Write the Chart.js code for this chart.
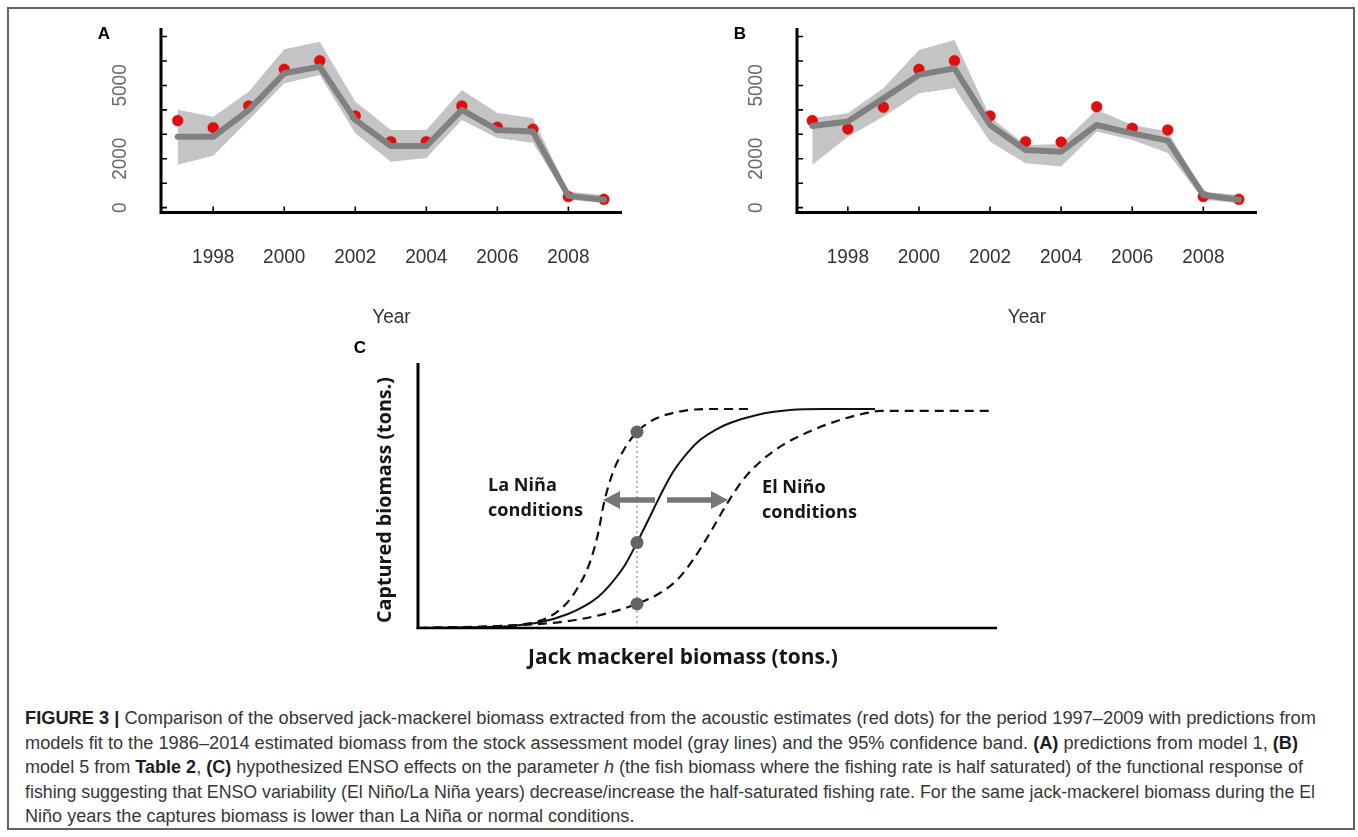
<!DOCTYPE html>
<html>
<head>
<meta charset="utf-8">
<script src="https://cdn.jsdelivr.net/npm/chart.js@4/dist/chart.umd.min.js"></script>
<style>
html,body{margin:0;padding:0;background:#fff;}
body{width:1358px;height:837px;position:relative;overflow:hidden;font-family:"Liberation Sans",Arial,sans-serif;}
canvas{position:absolute;}
#frame{position:absolute;left:7px;top:7px;width:1348px;height:823px;border:2px solid #626262;box-sizing:border-box;}
.cap{position:absolute;left:25px;white-space:nowrap;font-size:18px;line-height:24px;color:#363636;transform-origin:0 0;}
.cap b{color:#1e1e1e;}
</style>
</head>
<body>
<div id="frame"></div>
<canvas id="cA" width="680" height="340" style="left:0;top:0"></canvas>
<canvas id="cB" width="678" height="340" style="left:680px;top:0"></canvas>
<canvas id="cC" width="700" height="350" style="left:340px;top:330px"></canvas>
<div class="cap" data-end="1316" style="top:706px"><b>FIGURE 3 |</b> Comparison of the observed jack-mackerel biomass extracted from the acoustic estimates (red dots) for the period 1997–2009 with predictions from</div>
<div class="cap" data-end="1298" style="top:731px">models fit to the 1986–2014 estimated biomass from the stock assessment model (gray lines) and the 95% confidence band. <b>(A)</b> predictions from model 1, <b>(B)</b></div>
<div class="cap" data-end="1303" style="top:755px">model 5 from <b>Table 2</b>, <b>(C)</b> hypothesized ENSO effects on the parameter <i>h</i> (the fish biomass where the fishing rate is half saturated) of the functional response of</div>
<div class="cap" data-end="1315" style="top:780px">fishing suggesting that ENSO variability (El Niño/La Niña years) decrease/increase the half-saturated fishing rate. For the same jack-mackerel biomass during the El</div>
<div class="cap" style="top:804px">Niño years the captures biomass is lower than La Niña or normal conditions.</div>
<script>
// ---------------- data: panels A and B ----------------
const years = [1997,1998,1999,2000,2001,2002,2003,2004,2005,2006,2007,2008,2009];
const obsA = [3560,3270,4160,5660,6010,3750,2700,2700,4160,3290,3210,450,340];
const fitA = [2900,2900,3990,5500,5770,3590,2520,2520,4000,3180,3110,480,320];
const upA  = [4000,3720,4740,6480,6790,4340,3180,3180,4810,3870,3670,650,520];
const loA  = [1750,2120,3590,5090,5430,3040,1880,2030,3590,2850,2650,320,190];

const obsB = [3560,3220,4110,5660,6010,3750,2700,2680,4130,3250,3180,450,340];
const fitB = [3340,3520,4470,5430,5700,3380,2360,2290,3380,3040,2740,520,320];
const upB  = [3660,3860,4880,6450,6860,3720,2560,2600,4000,3380,3110,650,520];
const loB  = [1750,2900,3720,4680,4880,2700,1820,1680,3110,2770,2230,320,190];

const yTickValues = [0,1000,2000,3000,4000,5000,6000,7000];
const yTickLabels = [0,2000,5000];
const xTickLabels = [1998,2000,2002,2004,2006,2008];

// ---------------- data: panel C (conceptual curves) ----------------
const solidX  = [0,0.898,1.554,2.124,2.591,2.850,3.109,3.282,3.575,3.782,3.990,4.145,4.404,4.698,4.870,5.130,5.389,5.855,6.425,6.995,7.893];
const solidY  = [0,0.003,0.008,0.027,0.064,0.096,0.142,0.187,0.288,0.390,0.500,0.584,0.712,0.813,0.858,0.904,0.936,0.973,0.995,1.0,1.0];
const ninaX   = [0,0.898,1.330,1.848,2.263,2.539,2.746,2.953,3.109,3.212,3.368,3.575,3.782,4.059,4.473,4.991,5.734];
const ninaY   = [0,0.004,0.008,0.018,0.050,0.105,0.178,0.288,0.430,0.571,0.712,0.822,0.895,0.950,0.986,1.0,1.0];
const ninoX   = [0,1.416,2.453,3.143,3.782,4.180,4.473,4.750,5.043,5.354,5.613,5.907,6.304,6.822,7.288,7.755,7.979,9.931];
const ninoY   = [0,0.009,0.027,0.059,0.110,0.160,0.219,0.311,0.434,0.575,0.676,0.758,0.836,0.904,0.950,0.982,0.991,0.991];
const markX   = [3.782,3.782,3.782];
const markY   = [0.895,0.390,0.110];
const guideX  = [3.782,3.782];
const guideY  = [0,0.895];
const arrowFrom  = [4.093,4.301];
const arrowTo    = [3.195,5.354];
const arrowLevel = [0.584,0.584];

const pts = (xs, ys) => xs.map((x,i)=>({x:x, y:ys[i]}));

function fitFont(ctx, text, weight, family, target){
  ctx.font = weight + ' 100px ' + family;
  const w = ctx.measureText(text).width;
  return weight + ' ' + (100*target/w).toFixed(2) + 'px ' + family;
}

// ---------------- plugin for R style axes ----------------
const rAxes = {
  id:'rAxes',
  afterDraw(chart, args, o){
    const ctx = chart.ctx, ca = chart.chartArea, xs = chart.scales.x, ys = chart.scales.y;
    ctx.save();
    ctx.strokeStyle = '#000';
    ctx.lineWidth = 3;
    ctx.beginPath();
    ctx.moveTo(ca.left, ca.top); ctx.lineTo(ca.left, ca.bottom+1.5);
    ctx.moveTo(ca.left-1.5, ca.bottom); ctx.lineTo(ca.right, ca.bottom);
    ctx.stroke();
    ctx.lineWidth = 1.6;
    ctx.beginPath();
    yTickValues.forEach(v=>{const y=ys.getPixelForValue(v); ctx.moveTo(ca.left, y); ctx.lineTo(ca.left+6, y);});
    xTickLabels.forEach(v=>{const x=xs.getPixelForValue(v); ctx.moveTo(x, ca.bottom); ctx.lineTo(x, ca.bottom-6);});
    ctx.stroke();
    // y labels (rotated)
    ctx.fillStyle = '#6a6a6a';
    ctx.font = '19px "Liberation Sans", Arial, sans-serif';
    ctx.textAlign = 'center'; ctx.textBaseline = 'middle';
    yTickLabels.forEach(v=>{
      const y = ys.getPixelForValue(v);
      ctx.save(); ctx.translate(ca.left-41, y); ctx.rotate(-Math.PI/2); ctx.scale(1,1.08); ctx.fillText(String(v),0,0); ctx.restore();
    });
    // x labels
    ctx.fillStyle = '#333';
    xTickLabels.forEach(v=>{
      const x = xs.getPixelForValue(v);
      ctx.save(); ctx.translate(x, ca.bottom+44.5); ctx.scale(1,1.08); ctx.fillText(String(v),0,0); ctx.restore();
    });
    ctx.save(); ctx.translate((ca.left+ca.right)/2, ca.bottom+104.5); ctx.scale(1,1.08); ctx.fillText('Year',0,0); ctx.restore();
    // panel letter
    ctx.fillStyle = '#000';
    ctx.font = 'bold 17px "Liberation Sans", Arial, sans-serif';
    ctx.fillText(o.letter, ca.left-57, 34);
    ctx.restore();
  }
};

function tsChart(id, obs, fit, up, lo, pad, xmin, xmax, letter){
  return new Chart(document.getElementById(id), {
    type:'line',
    data:{datasets:[
      {label:'Model', data:pts(years, fit), borderColor:'rgb(128,128,128)', borderWidth:6, pointRadius:0, fill:false, order:0, borderJoinStyle:'round', borderCapStyle:'round', tension:0},
      {label:'Acoustic', data:pts(years, obs), showLine:false, pointRadius:5.5, pointBackgroundColor:'rgb(226,14,14)', pointBorderColor:'rgba(200,0,0,0.6)', pointBorderWidth:0.5, order:1},
      {label:'Upper 95%', data:pts(years, up), borderColor:'rgba(0,0,0,0)', borderWidth:0, pointRadius:0, fill:'+1', backgroundColor:'rgb(196,196,196)', order:2, tension:0},
      {label:'Lower 95%', data:pts(years, lo), borderColor:'rgba(0,0,0,0)', borderWidth:0, pointRadius:0, fill:false, order:3, tension:0}
    ]},
    options:{
      responsive:false, animation:false, events:[],
      layout:{padding:pad},
      plugins:{legend:{display:false}, tooltip:{enabled:false}, rAxes:{letter:letter}},
      scales:{
        x:{type:'linear', min:xmin, max:xmax, display:false},
        y:{type:'linear', min:-200, max:7350, display:false}
      }
    },
    plugins:[rAxes]
  });
}

tsChart('cA', obsA, fitA, upA, loA, {left:161, top:28, right:58, bottom:127.5}, 1996.53, 2009.51, 'A');
tsChart('cB', obsB, fitB, upB, loB, {left:117, top:28, right:101, bottom:127.5}, 1996.57, 2009.51, 'B');

// ---------------- panel C ----------------
const cPlugin = {
  id:'cDecor',
  afterDraw(chart){
    const ctx = chart.ctx, ca = chart.chartArea, xs = chart.scales.x, ys = chart.scales.y;
    ctx.save();
    // axes
    ctx.strokeStyle = '#000';
    ctx.lineWidth = 3;
    ctx.beginPath(); ctx.moveTo(ca.left, ca.top); ctx.lineTo(ca.left, ca.bottom+1); ctx.stroke();
    ctx.lineWidth = 2.6;
    ctx.beginPath(); ctx.moveTo(ca.left-1.5, ca.bottom); ctx.lineTo(ca.right, ca.bottom); ctx.stroke();
    // arrows
    ctx.strokeStyle = ctx.fillStyle = 'rgb(118,118,118)';
    arrowFrom.forEach((f,i)=>{
      const x0 = xs.getPixelForValue(f), x1 = xs.getPixelForValue(arrowTo[i]), y = ys.getPixelForValue(arrowLevel[i]);
      const dir = Math.sign(x1-x0), hl = 17, hh = 9;
      ctx.lineWidth = 5.5;
      ctx.beginPath(); ctx.moveTo(x0, y); ctx.lineTo(x1-dir*hl+dir*1, y); ctx.stroke();
      ctx.beginPath(); ctx.moveTo(x1, y); ctx.lineTo(x1-dir*hl, y-hh); ctx.lineTo(x1-dir*hl, y+hh); ctx.closePath(); ctx.fill();
    });
    // annotations
    const fam = '"Open Sans", "DejaVu Sans", sans-serif';
    ctx.fillStyle = '#161616';
    ctx.textAlign = 'left'; ctx.textBaseline = 'middle';
    ctx.font = fitFont(ctx, 'conditions', '700', fam, 95);
    const lx1 = xs.getPixelForValue(1.209), ly1 = ys.getPixelForValue(0.648);
    ctx.fillText('La Niña', lx1, ly1); ctx.fillText('conditions', lx1, ly1+25);
    const lx2 = xs.getPixelForValue(5.941), ly2 = ys.getPixelForValue(0.639);
    ctx.fillText('El Niño', lx2, ly2); ctx.fillText('conditions', lx2, ly2+25);
    // axis titles
    ctx.textAlign = 'center';
    ctx.font = fitFont(ctx, 'Jack mackerel biomass (tons.)', '700', fam, 310);
    ctx.fillText('Jack mackerel biomass (tons.)', 343, 328);
    ctx.font = fitFont(ctx, 'Captured biomass (tons.)', '700', fam, 246);
    ctx.save(); ctx.translate(45, 170); ctx.rotate(-Math.PI/2); ctx.fillText('Captured biomass (tons.)', 0, 0); ctx.restore();
    // panel letter
    ctx.fillStyle = '#000';
    ctx.font = 'bold 17px "Liberation Sans", Arial, sans-serif';
    ctx.fillText('C', 20, 18);
    ctx.restore();
  }
};

new Chart(document.getElementById('cC'), {
  type:'line',
  data:{datasets:[
    {label:'Normal', data:pts(solidX, solidY), borderColor:'#111', borderWidth:2, pointRadius:0, cubicInterpolationMode:'monotone', fill:false, order:2},
    {label:'La Niña', data:pts(ninaX, ninaY), borderColor:'#111', borderWidth:2.2, borderDash:[9,6], pointRadius:0, cubicInterpolationMode:'monotone', fill:false, order:2},
    {label:'El Niño', data:pts(ninoX, ninoY), borderColor:'#111', borderWidth:2.2, borderDash:[9,6], pointRadius:0, cubicInterpolationMode:'monotone', fill:false, order:2},
    {label:'Same biomass', data:pts(guideX, guideY), borderColor:'#a8a8a8', borderWidth:1.6, borderDash:[2,3], pointRadius:0, fill:false, order:3},
    {label:'Captures', data:pts(markX, markY), showLine:false, pointRadius:6.5, pointBackgroundColor:'rgb(100,100,100)', pointBorderWidth:0, order:0}
  ]},
  options:{
    responsive:false, animation:false, events:[],
    layout:{padding:{left:78, top:33, right:43, bottom:52}},
    plugins:{legend:{display:false}, tooltip:{enabled:false}},
    scales:{
      x:{type:'linear', min:0, max:10, display:false},
      y:{type:'linear', min:0, max:1.21, display:false}
    }
  },
  plugins:[cPlugin]
});

// ---------------- caption width fit (per line, to the reference line ends) ----------------
(function(){
  const lines = Array.from(document.querySelectorAll('.cap'));
  const factors = [];
  lines.forEach(l=>{
    const end = l.getAttribute('data-end');
    if (end) {
      const w = l.getBoundingClientRect().width;
      const f = (Number(end) - 25) / w;
      factors.push(f);
      l.style.transform = 'scaleX(' + f.toFixed(4) + ')';
    }
  });
  const avg = factors.reduce((a,b)=>a+b,0) / factors.length;
  lines.forEach(l=>{ if (!l.getAttribute('data-end')) l.style.transform = 'scaleX(' + avg.toFixed(4) + ')'; });
})();
</script>
</body>
</html>
